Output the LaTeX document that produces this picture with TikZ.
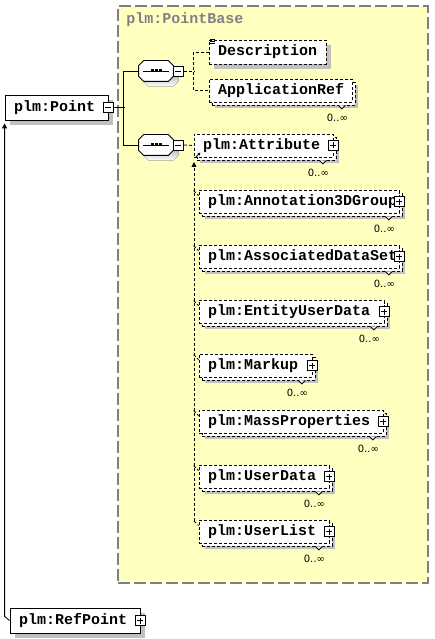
\documentclass[tikz,border=0pt]{standalone}
\usepackage{fontspec}
\newfontfamily\elemfont{Liberation Mono}
\newfontfamily\multfont{DejaVu Sans}
\usepackage{tikz}
\usetikzlibrary{shadows}
\usetikzlibrary{arrows.meta}
\usetikzlibrary{calc}
\definecolor{groupfill}{RGB}{255,255,192}
\definecolor{groupline}{RGB}{128,128,128}
\definecolor{shade}{RGB}{192,192,192}

\begin{document}
\begin{tikzpicture}[x=1pt, y=-1pt,
 every node/.style={line width=0.8pt},
group/.style={rectangle, draw=groupline, fill=groupfill, line width=1.2pt, dash pattern=on 12pt off 4pt, minimum width=310pt, minimum height=577pt, inner sep=0pt},
grouplabel/.style={inner sep=0pt, text=groupline, font=\elemfont\bfseries\fontsize{15pt}{16pt}\selectfont},
elem/.style={rectangle, draw=black, fill=white, inner xsep=9pt, inner ysep=0pt, minimum height=23pt, align=left, font=\elemfont\bfseries\fontsize{15pt}{16pt}\selectfont},
opt/.style={elem, dash pattern=on 3pt off 2pt},
back/.style={rectangle, draw=black, fill=white, dash pattern=on 3pt off 2pt, inner sep=0pt, minimum height=23pt, drop shadow={shadow xshift=3pt, shadow yshift=-3pt, fill=shade, opacity=1}},
shadowed/.style={drop shadow={shadow xshift=5pt, shadow yshift=-5pt, fill=shade, opacity=1}},
pmbox/.style={rectangle, draw=black, fill=white, minimum size=10pt, inner sep=0pt},
minusbox/.style={pmbox, path picture={\draw[line width=0.8pt] ([xshift=2pt]path picture bounding box.west) -- ([xshift=-2pt]path picture bounding box.east);}},
plusbox/.style={pmbox, path picture={\draw[line width=0.8pt] ([xshift=2pt]path picture bounding box.west) -- ([xshift=-2pt]path picture bounding box.east); \draw[line width=0.8pt] ([yshift=-2pt]path picture bounding box.north) -- ([yshift=2pt]path picture bounding box.south);}},
seq/.style={rectangle, minimum width=34pt, minimum height=20pt, inner sep=0pt},
octagon/.style={insert path={($(#1.north west)+(5,0)$) -- ($(#1.north east)+(-5,0)$) -- ($(#1.north east)+(0,5)$) -- ($(#1.south east)+(0,-5)$) -- ($(#1.south east)+(-5,0)$) -- ($(#1.south west)+(5,0)$) -- ($(#1.south west)+(0,-5)$) -- ($(#1.north west)+(0,5)$) -- cycle}},
line/.style={draw=black, line width=0.8pt},
link/.style={line, dash pattern=on 3pt off 2pt},
arrow/.style={line, -{Triangle[length=5pt,width=5pt]}},
notch/.style={draw=black, fill=white, line width=0.8pt},
mult/.style={inner sep=0pt, font=\multfont\fontsize{10pt}{11pt}\selectfont}]

\useasboundingbox[fill=white] (0,0) rectangle (434,639);

% group plm:PointBase
\node[group] (grp) at (273, 294.5) {};
\node[grouplabel, anchor=west] (grpname) at (126, 20) {plm:PointBase};

\node[elem, shadowed, text width=85pt, minimum height=25pt] (point) at (56.5, 107.5) {plm:Point};
\node[minusbox] (pointM) at (point.east) {};

% sequence compositors
\node[seq] (seq1S) at (161, 76) {};
\fill[shade, octagon=seq1S];
\node[seq] (seq1) at (156, 71) {};
\draw[line, fill=white, octagon=seq1];
\draw[line] ($(seq1.center)+(-13,0)$) -- ($(seq1.center)+(13,0)$);
\foreach \d in {-4,0,4} \fill ($(seq1.center)+(\d-1.5,-1.5)$) rectangle ++(3,3);
\node[minusbox] (seq1M) at ($(seq1.east)+(5,0)$) {};

\node[seq] (seq2S) at (161, 150) {};
\fill[shade, octagon=seq2S];
\node[seq] (seq2) at (156, 145) {};
\draw[line, fill=white, octagon=seq2];
\draw[line] ($(seq2.center)+(-13,0)$) -- ($(seq2.center)+(13,0)$);
\foreach \d in {-4,0,4} \fill ($(seq2.center)+(\d-1.5,-1.5)$) rectangle ++(3,3);
\node[minusbox] (seq2M) at ($(seq2.east)+(5,0)$) {};

\draw[line] (pointM.east) -- ++(11,0);
\draw[line] (seq1.west) -- ++(-15,0) |- (seq2.west);

% first sequence
\node[opt, shadowed, text width=99pt, minimum height=24pt] (desc) at (267.5, 52) {Description};
\draw[line width=0.6pt] ($(desc.north west)+(1.5,0)$) -- ++(5,0);
\draw[line width=0.6pt] ($(desc.north west)+(1.5,2)$) -- ++(5,0);
\draw[line width=0.6pt] ($(desc.north west)+(1.5,4)$) -- ++(5,0);

\node[back, minimum width=143pt] (apprefB) at (283.5, 93.5) {};
\node[opt, text width=125pt] (appref) at (280.5, 90.5) {ApplicationRef};
\draw[notch] ($(apprefB.south east)+(-17,0)$) -- ++(3.5,3.5) -- ++(3.5,-3.5);
\node[mult] (apprefN) at ($(apprefB.south east)+(-18,12)$) {0..∞};

\draw[link] (seq1M.east) -- ++(11,0);
\draw[link] (desc.west) -- ++(-15,0) |- (appref.west);

% second sequence, substitution group
\node[back, minimum width=139pt] (attrB) at (266.5, 148.5) {};
\node[opt, text width=121pt] (attr) at (263.5, 145.5) {plm:Attribute};
\node[plusbox] (attrP) at (attr.east) {};
\draw[notch] ($(attrB.south east)+(-17,0)$) -- ++(3.5,3.5) -- ++(3.5,-3.5);
\node[mult] (attrN) at ($(attrB.south east)+(-18,12)$) {0..∞};
\draw[line, -{Latex[length=3pt,width=3pt]}] ($(attr.south west)+(2,0)$) -- ++(5,-5);

\draw[link] (seq2M.east) -- (attr.west);

\node[back, minimum width=200pt] (annB) at (302, 204.5) {};
\node[opt, text width=182pt] (ann) at (299, 201.5) {plm:Annotation3DGroup};
\node[plusbox] (annP) at (ann.east) {};
\draw[notch] ($(annB.south east)+(-17,0)$) -- ++(3.5,3.5) -- ++(3.5,-3.5);
\node[mult] (annN) at ($(annB.south east)+(-18,12)$) {0..∞};

\node[back, minimum width=200pt] (assocB) at (302, 259.5) {};
\node[opt, text width=182pt] (assoc) at (299, 256.5) {plm:AssociatedDataSet};
\node[plusbox] (assocP) at (assoc.east) {};
\draw[notch] ($(assocB.south east)+(-17,0)$) -- ++(3.5,3.5) -- ++(3.5,-3.5);
\node[mult] (assocN) at ($(assocB.south east)+(-18,12)$) {0..∞};

\node[back, minimum width=185pt] (entityB) at (294.5, 314.5) {};
\node[opt, text width=167pt] (entity) at (291.5, 311.5) {plm:EntityUserData};
\node[plusbox] (entityP) at (entity.east) {};
\draw[notch] ($(entityB.south east)+(-17,0)$) -- ++(3.5,3.5) -- ++(3.5,-3.5);
\node[mult] (entityN) at ($(entityB.south east)+(-18,12)$) {0..∞};

\node[back, minimum width=113pt] (markupB) at (258.5, 368.5) {};
\node[opt, text width=95pt] (markup) at (255.5, 365.5) {plm:Markup};
\node[plusbox] (markupP) at (markup.east) {};
\draw[notch] ($(markupB.south east)+(-17,0)$) -- ++(3.5,3.5) -- ++(3.5,-3.5);
\node[mult] (markupN) at ($(markupB.south east)+(-18,12)$) {0..∞};

\node[back, minimum width=184pt] (massB) at (294, 424.5) {};
\node[opt, text width=166pt] (mass) at (291, 421.5) {plm:MassProperties};
\node[plusbox] (massP) at (mass.east) {};
\draw[notch] ($(massB.south east)+(-17,0)$) -- ++(3.5,3.5) -- ++(3.5,-3.5);
\node[mult] (massN) at ($(massB.south east)+(-18,12)$) {0..∞};

\node[back, minimum width=130pt] (udataB) at (267, 479.5) {};
\node[opt, text width=112pt] (udata) at (264, 476.5) {plm:UserData};
\node[plusbox] (udataP) at (udata.east) {};
\draw[notch] ($(udataB.south east)+(-17,0)$) -- ++(3.5,3.5) -- ++(3.5,-3.5);
\node[mult] (udataN) at ($(udataB.south east)+(-18,12)$) {0..∞};

\node[back, minimum width=130pt] (ulistB) at (267, 534.5) {};
\node[opt, text width=112pt] (ulist) at (264, 531.5) {plm:UserList};
\node[plusbox] (ulistP) at (ulist.east) {};
\draw[notch] ($(ulistB.south east)+(-17,0)$) -- ++(3.5,3.5) -- ++(3.5,-3.5);
\node[mult] (ulistN) at ($(ulistB.south east)+(-18,12)$) {0..∞};

\coordinate (subtop) at (194, 162);
\coordinate (subbot) at (194, 521);
\draw[link, -{Triangle[length=5pt,width=5pt]}] (subbot) -- (subtop);
\draw[link] (subbot) -- ($(ulist.north west)+(0,6)$);
\draw[link] ($(ann.north west)+(-5,1)$) -- ($(ann.north west)+(0,6)$);
\draw[link] ($(assoc.north west)+(-5,1)$) -- ($(assoc.north west)+(0,6)$);
\draw[link] ($(entity.north west)+(-5,1)$) -- ($(entity.north west)+(0,6)$);
\draw[link] ($(markup.north west)+(-5,1)$) -- ($(markup.north west)+(0,6)$);
\draw[link] ($(mass.north west)+(-5,1)$) -- ($(mass.north west)+(0,6)$);
\draw[link] ($(udata.north west)+(-5,1)$) -- ($(udata.north west)+(0,6)$);

% referencing element
\node[elem, shadowed, text width=112pt, minimum height=25pt] (refpt) at (75, 620.5) {plm:RefPoint};
\node[plusbox] (refptP) at (refpt.east) {};
\draw[arrow] (refpt.west) -- ++(-5,-4) -- ($(point.south west)+(0,3)$);

\end{tikzpicture}
\end{document}
